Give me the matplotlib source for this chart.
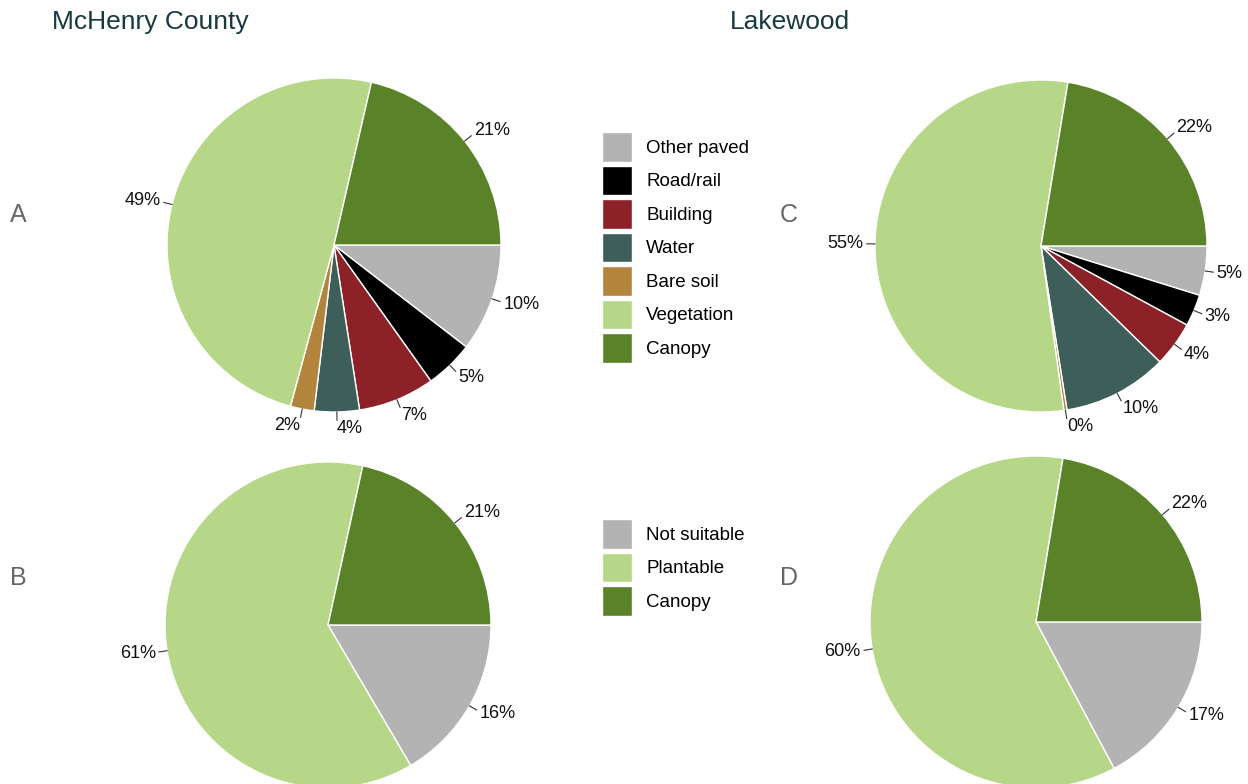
import numpy as np
import matplotlib
matplotlib.use("Agg")
import matplotlib.pyplot as plt

plt.rcParams['font.family'] = ['Liberation Sans', 'DejaVu Sans']

# Land cover categories (panels A and C), percent of area
cover_labels = ['Other paved', 'Road/rail', 'Building', 'Water', 'Bare soil', 'Vegetation', 'Canopy']
cover_colors = ['#b3b3b3', '#000000', '#8c2128', '#3e5e59', '#b3843c', '#b6d787', '#5a8228']
mchenry_cover = [10.45, 4.7, 7.4, 4.35, 2.3, 49.4, 21.4]
lakewood_cover = [4.8, 3.1, 4.4, 10.2, 0.3, 54.8, 22.4]

# Plantable categories (panels B and D), percent of area
plant_labels = ['Not suitable', 'Plantable', 'Canopy']
plant_colors = ['#b3b3b3', '#b6d787', '#5a8228']
mchenry_plant = [16.4, 61.4, 21.4]
lakewood_plant = [17.2, 60.4, 22.4]

W, H = 1248, 784
fig = plt.figure(figsize=(W / 100, H / 100), dpi=100)


def pie_axes(cx, cy, r):
    return fig.add_axes([(cx - r) / W, (H - cy - r) / H, 2 * r / W, 2 * r / H])


def draw_pie(ax, values, colors):
    wedges, _ = ax.pie(values, colors=colors, startangle=0, counterclock=False,
                       radius=1, wedgeprops=dict(edgecolor='white', linewidth=1))
    for w, v in zip(wedges, values):
        ang = np.deg2rad((w.theta1 + w.theta2) / 2)
        c, s = np.cos(ang), np.sin(ang)
        ax.plot([c * 1.0, c * 1.05], [s * 1.0, s * 1.05], color='#333333',
                lw=0.8, clip_on=False)
        ha = 'left' if c > -0.15 else 'right'
        ax.text(c * 1.07, s * 1.1, f'{round(v)}%', ha=ha, va='center',
                fontsize=13, color='#111111')
    ax.set_xlim(-1, 1)
    ax.set_ylim(-1, 1)
    ax.set_axis_off()
    return wedges


wa = draw_pie(pie_axes(334, 245, 167), mchenry_cover, cover_colors)
draw_pie(pie_axes(328, 625, 163), mchenry_plant, plant_colors)
draw_pie(pie_axes(1041, 246, 166), lakewood_cover, cover_colors)
wb = draw_pie(pie_axes(1036, 622, 166), lakewood_plant, plant_colors)

# Legends
leg_kw = dict(loc='upper left', frameon=False, fontsize=13.5, handlelength=1.6,
              handleheight=2.05, labelspacing=0.21, handletextpad=0.75, borderpad=0,
              borderaxespad=0)
fig.legend(wa, cover_labels, bbox_to_anchor=(602 / W, 1 - 132 / H), **leg_kw)
fig.legend(wb, plant_labels, bbox_to_anchor=(602 / W, 1 - 519 / H), **leg_kw)

# Titles and panel letters
title_color = '#17393f'
fig.text(52 / W, 1 - 22 / H, 'McHenry County', fontsize=19, color=title_color,
         ha='left', va='center')
fig.text(730 / W, 1 - 22 / H, 'Lakewood', fontsize=19, color=title_color,
         ha='left', va='center')
for letter, x, y in [('A', 10, 215), ('B', 10, 578), ('C', 780, 215), ('D', 780, 578)]:
    fig.text(x / W, 1 - y / H, letter, fontsize=18, color='#666666', ha='left', va='center')

fig.savefig('out.png', dpi=100)
